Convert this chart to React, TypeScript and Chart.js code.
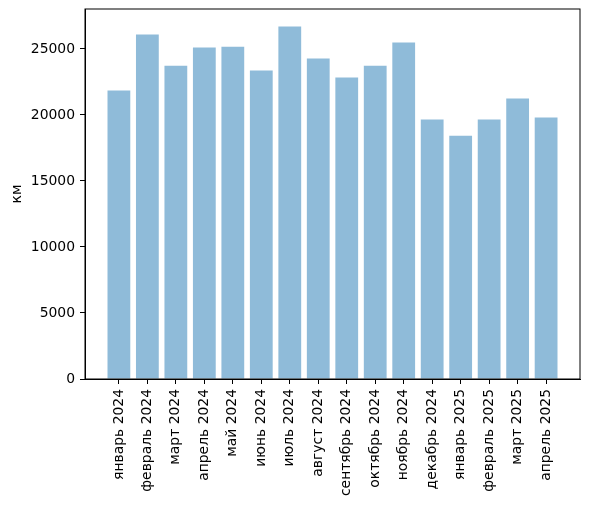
import { useEffect, useRef } from 'react'
import { Chart, registerables } from 'chart.js'

Chart.register(...registerables)

// months on the x axis
const months = [
  'январь 2024', 'февраль 2024', 'март 2024', 'апрель 2024', 'май 2024', 'июнь 2024',
  'июль 2024', 'август 2024', 'сентябрь 2024', 'октябрь 2024', 'ноябрь 2024', 'декабрь 2024',
  'январь 2025', 'февраль 2025', 'март 2025', 'апрель 2025',
]

// distance per month, km
const distances = [
  21850, 26100, 23730, 25100, 25170, 23360, 26690, 24270,
  22830, 23730, 25480, 19650, 18430, 19650, 21240, 19800,
]

const yTicks = [0, 5000, 10000, 15000, 20000, 25000]

const FONT = 'DejaVu Sans'

// matplotlib draws a frame on all four sides
const framePlugin = {
  id: 'frame',
  afterDraw(chart: Chart) {
    const { ctx, chartArea } = chart
    ctx.save()
    ctx.strokeStyle = '#000'
    ctx.lineWidth = 1
    ctx.strokeRect(chartArea.left, chartArea.top, chartArea.right - chartArea.left, chartArea.bottom - chartArea.top)
    ctx.restore()
  },
}

export default function App() {
  const canvasRef = useRef<HTMLCanvasElement>(null)

  useEffect(() => {
    document.body.style.margin = '0'
    if (!canvasRef.current) return
    const ctx = canvasRef.current.getContext('2d')
    if (!ctx) return

    const n = distances.length
    const yMax = Math.max(...distances) * 1.05

    const chart = new Chart(ctx, {
      type: 'bar',
      data: {
        datasets: [{
          data: distances.map((v, i) => ({ x: i, y: v })),
          backgroundColor: 'rgba(31,119,180,0.5)',
          borderWidth: 0,
          categoryPercentage: 1,
          barPercentage: 0.8,
        }],
      },
      options: {
        animation: false,
        responsive: false,
        devicePixelRatio: 1,
        layout: { padding: { top: 9, right: 9, left: 0, bottom: 0 } },
        plugins: { legend: { display: false }, tooltip: { enabled: false } },
        scales: {
          x: {
            type: 'linear',
            min: -0.4 - 0.79,
            max: n - 1 + 0.4 + 0.79,
            offset: false,
            afterBuildTicks: (scale: any) => {
              scale.ticks = months.map((_, i) => ({ value: i }))
            },
            afterFit: (scale: any) => {
              scale.height = 127
              scale.paddingLeft = 0
              scale.paddingRight = 0
            },
            grid: { offset: false, drawOnChartArea: false, drawTicks: true, tickLength: 5, color: '#000' },
            border: { display: true, color: '#000' },
            ticks: {
              autoSkip: false,
              minRotation: 90,
              maxRotation: 90,
              padding: 5,
              color: '#000',
              font: { family: FONT, size: 13.9 },
              callback: (v: any) => months[v] ?? '',
            },
          },
          y: {
            min: 0,
            max: yMax,
            afterBuildTicks: (scale: any) => {
              scale.ticks = yTicks.map(v => ({ value: v }))
            },
            afterFit: (scale: any) => {
              scale.width = 85
              scale.paddingTop = 0
              scale.paddingBottom = 0
            },
            grid: { drawOnChartArea: false, drawTicks: true, tickLength: 5, color: '#000' },
            border: { display: true, color: '#000' },
            title: {
              display: true,
              text: 'км',
              color: '#000',
              font: { family: FONT, size: 13.9 },
              padding: { top: 9, bottom: 0 },
            },
            ticks: {
              padding: 5,
              color: '#000',
              font: { family: FONT, size: 13.9 },
              callback: (v: any) => String(v),
            },
          },
        },
      },
      plugins: [framePlugin],
    })

    return () => chart.destroy()
  }, [])

  return <canvas ref={canvasRef} width={589} height={506} style={{ display: 'block' }} />
}
